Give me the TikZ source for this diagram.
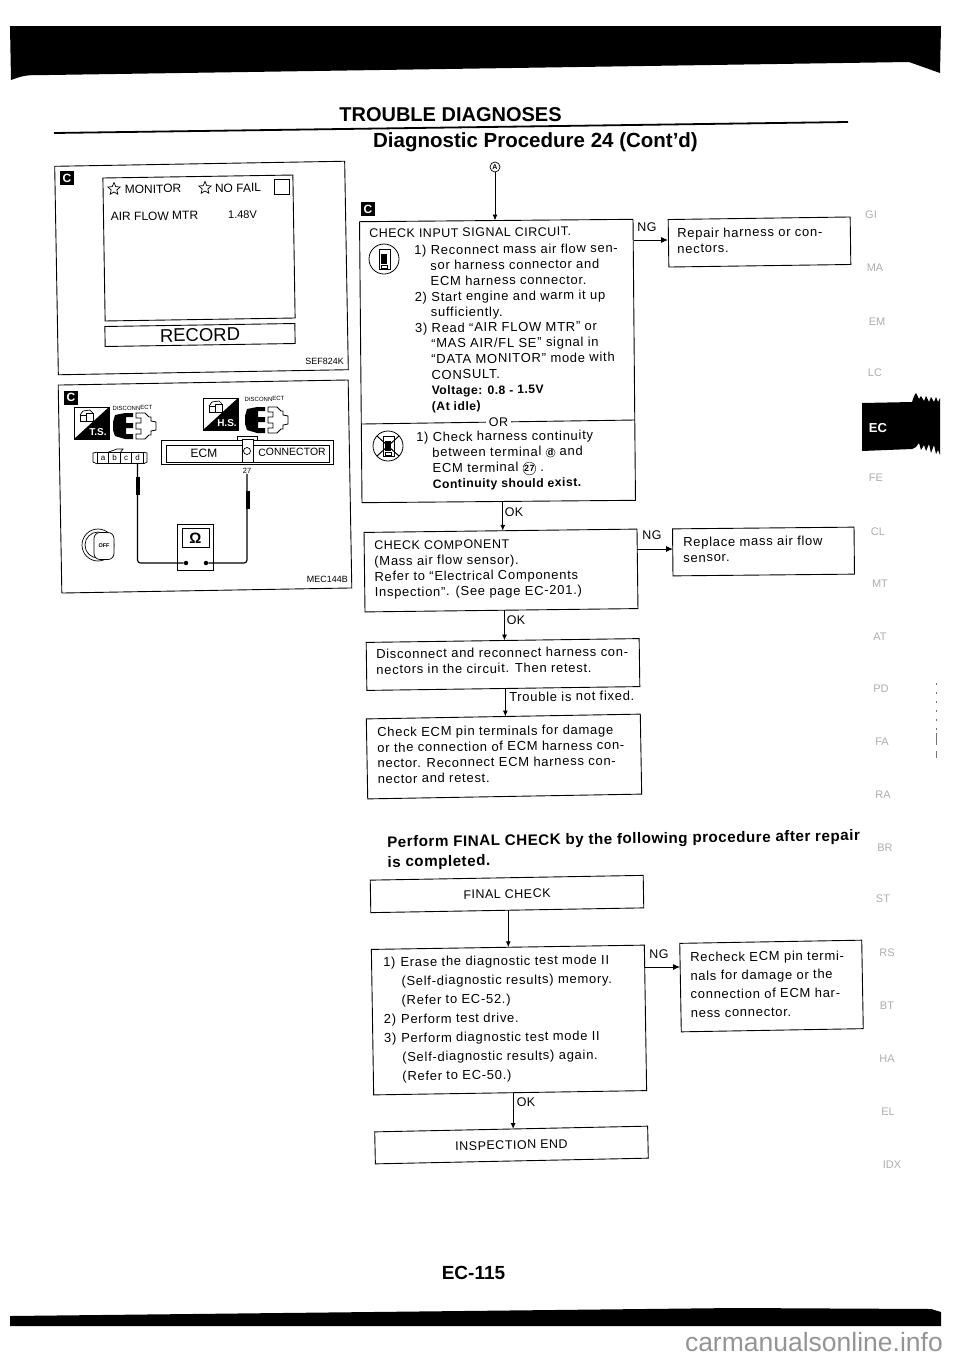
\documentclass[tikz,border=0pt]{standalone}
\usepackage{fontspec}
\usepackage{tikz}
\usetikzlibrary{arrows.meta,shapes.geometric}
\setmainfont{Liberation Sans}
\newcommand{\bodyfont}{\fontsize{13}{15.6}\selectfont\addfontfeature{LetterSpace=5.5}}
\newcommand{\capsfont}{\fontsize{12.5}{15.6}\selectfont\addfontfeature{LetterSpace=4}}
\newcommand{\boldfont}{\fontsize{12.2}{15.6}\selectfont\bfseries\addfontfeature{LetterSpace=4}}
\newcommand{\encirc}[1]{\tikz[baseline=(t.base)]{\node [draw,circle,inner sep=.2pt,font=\fontsize{9}{9}\selectfont\bfseries] (t) {#1};}}
\newcommand{\discon}[1]{
  \begin{scope}[shift={(#1)}]
    \fill (2,2) -- (12,0) -- (20,0) -- (20,4) -- (13,4) -- (13,10) -- (20,10) -- (20,15) -- (13,15) -- (13,21) -- (20,21) -- (20,26) -- (12,26) -- (2,23) -- (0,17) -- (0,9) -- cycle;
    \draw [line width=.8pt] (23,0) -- (32,0) -- (36,4) -- (38,4) -- (38,8) -- (43,9) -- (43,17) -- (38,18) -- (38,22) -- (36,22) -- (32,26) -- (23,26) -- (23,21) -- (28,21) -- (28,16) -- (23,16) -- (23,10) -- (28,10) -- (28,5) -- (23,5) -- cycle;
  \end{scope}
}
\newcommand{\modeicon}[3]{
  \begin{scope}[shift={(#1)}]
    \draw [line width=.8pt] (0,0) rectangle (35,32);
    \fill (35,0) -- (35,32) -- (0,32) -- cycle;
    \draw [line width=.7pt] (6,8) rectangle (12,14);
    \draw [line width=.7pt] (12,6) rectangle (19,14);
    \draw [line width=.7pt] (6,8) -- (9,4) -- (16,3) -- (19,6);
    \node [font=\fontsize{10}{10}\selectfont\bfseries,text=white,inner sep=0pt] (#2) at (24,25) {#3};
  \end{scope}
}
\newcommand{\harnessicon}[2]{
  \begin{scope}[shift={(#1)}]
    \node [draw,circle,minimum size=30pt,inner sep=0pt,line width=.8pt] (#2) at (0,0) {};
    \draw [line width=.8pt] (-5,-10) rectangle (6,10);
    \fill (-3,-5) rectangle (3,5);
    \draw [line width=.8pt] (-3,6) rectangle (3,9);
  \end{scope}
}
\tikzset{
  fbox/.style={draw,line width=.9pt,inner sep=0pt,outer sep=0pt},
  txt/.style={anchor=north west,inner sep=0pt,align=left,rotate=.6,font=\bodyfont},
  lab/.style={inner sep=0pt,rotate=.6,font=\capsfont},
  flow/.style={line width=.9pt,-{Latex[length=6pt,width=5pt]}},
  sideflow/.style={line width=.9pt,-{Latex[length=7pt,width=6pt]}},
  ctag/.style={fill=black,text=white,inner sep=0pt,minimum size=14pt,font=\fontsize{12}{12}\selectfont\bfseries},
  ghost/.style={text=black!32,inner sep=0pt,font=\fontsize{11}{11}\selectfont},
  bold/.style={inner sep=0pt,font=\fontsize{#1}{#1}\selectfont\bfseries},
  small/.style={inner sep=0pt,rotate=.8,font=\fontsize{#1}{#1}\selectfont},
  pinbox/.style={draw,line width=.7pt,minimum width=11.5pt,minimum height=11pt,inner sep=0pt,font=\fontsize{8}{8}\selectfont},
  probe/.style={line width=4pt},
  wire/.style={line width=1.1pt,rounded corners=3pt},
  dot/.style={fill=black,circle,inner sep=0pt,minimum size=4.5pt}
}
\begin{document}
\begin{tikzpicture}[x=1pt,y=-1pt]
    \useasboundingbox (0,0) rectangle (960,1358);
    \fill (10,26) -- (941,26) -- (940,73) -- (909,62) -- (49,75) .. controls (25,75) .. (11,80) -- cycle;
    \fill (10,1316) -- (735,1308) -- (931,1309) -- (941,1312) -- (941,1326) -- (10,1326) -- cycle;
    \node [bold=20] (Title) at (450.5,115) {TROUBLE DIAGNOSES};
    \draw [line width=1.8pt] (54,133) to (848,122);
    \node [bold=20.5] (Sub) at (535.5,142) {Diagnostic Procedure 24 (Cont’d)};
    \node [bold=19] (Page) at (473.5,1273) {EC-115};
    \node [inner sep=0pt,text=black!42,anchor=east,font=\fontsize{26.5}{26.5}\selectfont] (Mark) at (943,1342) {carmanualsonline.info};

    \node [fbox,minimum width=290pt,minimum height=208.5pt,rotate=1] (PanelA) at (201.5,268) {};
    \node [ctag] (TagA) at (67,178) {C};
    \node [fbox,minimum width=190pt,minimum height=143pt,rotate=.9] (Screen) at (199,248) {};
    \node [fbox,minimum width=190pt,minimum height=20pt,rotate=.9] (Record) at (200,335) {\fontsize{18.5}{18.5}\selectfont RECORD};
    \node [draw,star,star points=5,star point ratio=2.2,minimum size=13pt,inner sep=0pt,line width=.7pt] (StarA) at (114,189) {};
    \node [small=12] (Mon) at (153,189) {MONITOR};
    \node [draw,star,star points=5,star point ratio=2.2,minimum size=13pt,inner sep=0pt,line width=.7pt] (StarB) at (205,188) {};
    \node [small=12] (Fail) at (238,188) {NO FAIL};
    \node [fbox,minimum size=15pt] (Check) at (282,187) {};
    \node [small=12] (Air) at (154.5,216) {AIR FLOW MTR};
    \node [small=11] (Volt) at (242.5,215) {1.48V};
    \node [small=9,anchor=east] (RefA) at (344,361) {SEF824K};

    \node [fbox,minimum width=290pt,minimum height=208pt,rotate=1] (PanelB) at (205,486.5) {};
    \node [ctag] (TagB) at (71,397.5) {C};
    \modeicon{74,407}{TS}{T.S.}
    \modeicon{203,398}{HS}{H.S.}
    \node [small=6] (DisA) at (132.5,408) {DISCONNECT};
    \node [small=6] (DisB) at (264.5,399) {DISCONNECT};
    \discon{113,413}
    \discon{245,407}
    \foreach \t [count=\i] in {a,b,c,d}{
      \node [pinbox] (\t) at ({91.5+11.5*\i},458) {\t};
    }
    \draw [line width=.7pt] (a.north west) to (93,453) to (93,462) to (a.south west);
    \draw [line width=.7pt] (d.north east) to (147,453) to (147,462) to (d.south east);
    \draw [line width=.7pt] (b.north west) to (117,449) to (123,449) to (b.north east);
    \node [fbox,minimum width=172pt,minimum height=24pt] (Ecm) at (247,452) {};
    \node [draw,line width=.7pt,minimum width=163pt,minimum height=17pt,inner sep=0pt] (EcmIn) at (247.5,453.5) {};
    \node [draw,fill=white,line width=.8pt,minimum width=11pt,minimum height=23pt,inner sep=0pt] (Slot) at (247.5,450.5) {};
    \draw [line width=.7pt] (237,440) to (237,436.5) to (257,436.5) to (257,440);
    \node [draw,circle,line width=.7pt,minimum size=7pt,inner sep=0pt] (Hole) at (247,451) {};
    \node [small=12] (EcmT) at (204,453) {ECM};
    \node [small=10.5] (ConT) at (292,452) {CONNECTOR};
    \node [small=7.5] (Pin) at (247,471) {27};
    \node [fbox,minimum width=36pt,minimum height=46pt] (Meter) at (195,547) {};
    \node [fbox,minimum width=27pt,minimum height=19pt,font=\fontsize{15}{15}\selectfont\bfseries] (Ohm) at (195.5,538) {Ω};
    \node [dot] (DotL) at (186,563) {};
    \node [dot] (DotR) at (206,563) {};
    \draw [wire] (d.south) |- (DotL);
    \draw [wire] (Pin.south) |- (DotR);
    \draw [probe] (138,477) to (138,495);
    \draw [probe] (248,491) to (248,509);
    \draw [line width=.7pt] (98,545) circle (16);
    \draw [line width=.7pt] (98,545) circle (13);
    \node [draw,fill=white,line width=.7pt,rounded corners=6pt,minimum width=20pt,minimum height=27pt,inner sep=0pt,font=\fontsize{5.5}{5.5}\selectfont\bfseries] (Key) at (104,546) {OFF};
    \node [small=9,anchor=east] (RefB) at (348,579) {MEC144B};

    \node [draw,circle,line width=.7pt,inner sep=.4pt,minimum size=10pt,font=\fontsize{7}{7}\selectfont\bfseries] (At) at (495,167) {A};
    \node [ctag] (TagC) at (368,209) {C};
    \node [fbox,minimum width=273.5pt,minimum height=281pt,rotate=.5] (Input) at (497.5,361) {};
    \node [txt,font=\capsfont] (InputT) at (369,229) {CHECK INPUT SIGNAL CIRCUIT.};
    \node [txt] (InputS) at (414,245) {1) Reconnect mass air flow sen-\\
      \hspace*{16pt}sor harness connector and\\
      \hspace*{16pt}ECM harness connector.\\
      2) Start engine and warm it up\\
      \hspace*{16pt}sufficiently.\\
      3) Read “AIR FLOW MTR” or\\
      \hspace*{16pt}“MAS AIR/FL SE” signal in\\
      \hspace*{16pt}“DATA MONITOR” mode with\\
      \hspace*{16pt}CONSULT.\\
      \hspace*{16pt}{\boldfont Voltage: 0.8 - 1.5V}\\
      \hspace*{16pt}{\boldfont (At idle)}};
    \coordinate (DivL) at (362,424);
    \coordinate (DivR) at (635,420);
    \draw [line width=.9pt] (DivL) to node [fill=white,inner sep=3pt,font=\capsfont] (Or) {OR} (DivR);
    \node [txt] (InputO) at (416,432) {1) Check harness continuity\\
      \hspace*{16pt}between terminal \encirc{d} and\\
      \hspace*{16pt}ECM terminal \encirc{27} .\\
      \hspace*{16pt}{\boldfont Continuity should exist.}};
    \harnessicon{384,259}{IconA}
    \harnessicon{388,446}{IconB}
    \draw [line width=1pt] (377,436) to (399,456);
    \draw [line width=1pt] (377,456) to (399,436);

    \node [fbox,minimum width=182pt,minimum height=47.5pt,rotate=.8] (Repair) at (759.5,242) {};
    \node [txt] (RepairT) at (677,228) {Repair harness or con-\\nectors.};
    \node [fbox,minimum width=273pt,minimum height=79.5pt,rotate=.7] (Comp) at (501,570.5) {};
    \node [txt] (CompT) at (374,541) {{\capsfont CHECK COMPONENT}\\(Mass air flow sensor).\\Refer to “Electrical Components\\Inspection”. (See page EC-201.)};
    \node [fbox,minimum width=181.5pt,minimum height=47pt,rotate=.55] (Replace) at (763.5,551.5) {};
    \node [txt] (ReplaceT) at (683,537) {Replace mass air flow\\sensor.};
    \node [fbox,minimum width=273pt,minimum height=48pt,rotate=.8] (Disc) at (503,664.5) {};
    \node [txt] (DiscT) at (376,649) {Disconnect and reconnect harness con-\\nectors in the circuit. Then retest.};
    \node [fbox,minimum width=274pt,minimum height=80pt,rotate=1] (Pins) at (504,756.5) {};
    \node [txt] (PinsT) at (377,727) {Check ECM pin terminals for damage\\or the connection of ECM harness con-\\nector. Reconnect ECM harness con-\\nector and retest.};

    \node [txt,rotate=.2,font=\fontsize{15.2}{20}\selectfont\bfseries\addfontfeature{LetterSpace=3.3}] (Perform) at (387,836) {Perform FINAL CHECK by the following procedure after repair\\is completed.};

    \node [fbox,minimum width=273pt,minimum height=32.5pt,rotate=1,font=\capsfont] (Final) at (507,894) {FINAL CHECK};
    \node [fbox,minimum width=273pt,minimum height=145.5pt,rotate=.9] (Erase) at (509,1020) {};
    \node [txt,font=\fontsize{13}{19}\selectfont\addfontfeature{LetterSpace=5.5}] (EraseT) at (383,957) {1)\hspace*{5pt}Erase the diagnostic test mode II\\
      \hspace*{18pt}(Self-diagnostic results) memory.\\
      \hspace*{18pt}(Refer to EC-52.)\\
      2)\hspace*{5pt}Perform test drive.\\
      3)\hspace*{5pt}Perform diagnostic test mode II\\
      \hspace*{18pt}(Self-diagnostic results) again.\\
      \hspace*{18pt}(Refer to EC-50.)};
    \node [fbox,minimum width=182pt,minimum height=88.5pt,rotate=1] (Recheck) at (771.5,986) {};
    \node [txt,font=\fontsize{13}{18.6}\selectfont\addfontfeature{LetterSpace=5.5}] (RecheckT) at (690,952) {Recheck ECM pin termi-\\nals for damage or the\\connection of ECM har-\\ness connector.};
    \node [fbox,minimum width=273pt,minimum height=32pt,rotate=1.2,font=\capsfont] (End) at (511.5,1145) {INSPECTION END};

    \coordinate (NgA) at (668,240);
    \coordinate (NgB) at (673,549);
    \coordinate (NgC) at (680,967);
    \draw [flow] (At) to (At |- Input.north);
    \draw [sideflow] (Input.east |- NgA) to (NgA);
    \draw [sideflow] (Comp.east |- NgB) to (NgB);
    \draw [sideflow] (Erase.east |- NgC) to (NgC);
    \draw [flow] ([xshift=4pt]Input.south) to ([xshift=4pt]Input.south |- Comp.north);
    \draw [flow] ([xshift=3pt]Comp.south) to ([xshift=3pt]Comp.south |- Disc.north);
    \draw [flow] ([xshift=2pt]Disc.south) to ([xshift=2pt]Disc.south |- Pins.north);
    \draw [flow] ([xshift=1pt]Final.south) to ([xshift=1pt]Final.south |- Erase.north);
    \draw [flow] ([xshift=3pt]Erase.south) to ([xshift=3pt]Erase.south |- End.north);
    \node [lab] (OkA) at (514,512) {OK};
    \node [lab] (OkB) at (516,620) {OK};
    \node [lab,anchor=west,font=\bodyfont] (Fix) at (509,697) {Trouble is not fixed.};
    \node [lab] (OkC) at (526,1102) {OK};
    \node [lab] (NgLA) at (647,227) {NG};
    \node [lab] (NgLB) at (652,535) {NG};
    \node [lab] (NgLC) at (659,954) {NG};

    \fill (862,403) -- (912,402) -- (914,396) -- (916,393) -- (919,399) -- (921,396) -- (924,401) -- (926,396) -- (929,402) -- (931,397) -- (934,402) -- (936,397) -- (938,402) -- (940,398) -- (940,455) -- (938,450) -- (936,454) -- (934,445) -- (931,453) -- (929,444) -- (926,451) -- (924,445) -- (921,450) -- (919,443) -- (916,447) -- (912,449) -- (862,451) -- cycle;
    \node [bold=13,text=white] (Ec) at (878,428) {EC};
    \foreach \lab/\px/\py [count=\i] in {GI/871/215,MA/875/268,EM/877/322,LC/875/373,FE/876/478,CL/878/532,MT/880/584,AT/880/637,PD/881/689,FA/882/742,RA/883/795,BR/885/848,ST/883/899,RS/887/953,BT/887/1006,HA/887/1059,EL/888/1112,IDX/892/1165}{
      \node [ghost] (Side\i) at (\px,\py) {\lab};
    }
    \draw [black!55,line width=.8pt,dashed,dash pattern=on 2pt off 7pt] (936,683) to (936,733);
    \draw [black!55,line width=1pt] (936,733) to (936,745);
    \draw [black!55,line width=1pt] (936,751) to (936,758);
\end{tikzpicture}
\end{document}
